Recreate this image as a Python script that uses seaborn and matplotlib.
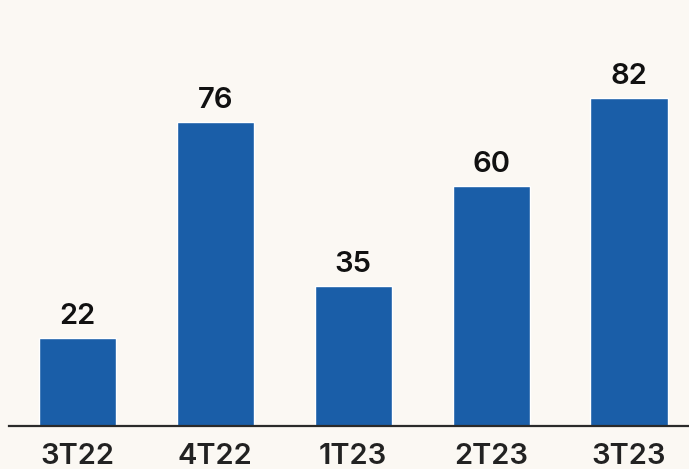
import matplotlib
matplotlib.use("Agg")
import matplotlib.pyplot as plt
import seaborn as sns
import pandas as pd

categories = ["3T22", "4T22", "1T23", "2T23", "3T23"]
values = [22, 76, 35, 60, 82]

df = pd.DataFrame({"cat": categories, "val": values})

sns.set_theme(style="white")
plt.rcParams['font.family'] = ['Inter', 'DejaVu Sans']

bg = "#FBF8F3"
fig = plt.figure(figsize=(6.89, 4.69), dpi=100, facecolor=bg)
ax = fig.add_axes([8.5/689, (469-426)/469, 1 - 8.5/689, 426/469])
ax.set_facecolor(bg)

sns.barplot(data=df, x="cat", y="val", color="#1A5EA8", saturation=1, width=0.56, ax=ax)

ax.set_xlim(-0.5, 4.435)
ax.set_ylim(0, 106.5)
for p, v in zip(ax.patches, values):
    ax.text(p.get_x() + p.get_width()/2, v + 2.0, f"{v}", ha="center", va="bottom",
            fontsize=21, fontweight="semibold", color="#111111")

for s in ["top", "right", "left"]:
    ax.spines[s].set_visible(False)
ax.spines["bottom"].set_color("#2a2a2a")
ax.spines["bottom"].set_linewidth(1.6)
ax.set_yticks([])
ax.set_xlabel("")
ax.set_ylabel("")
ax.tick_params(axis="x", length=0, pad=12, labelsize=21, labelcolor="#222222")
for t in ax.get_xticklabels():
    t.set_fontweight("semibold")

fig.savefig("out.png", dpi=100, facecolor=bg)
